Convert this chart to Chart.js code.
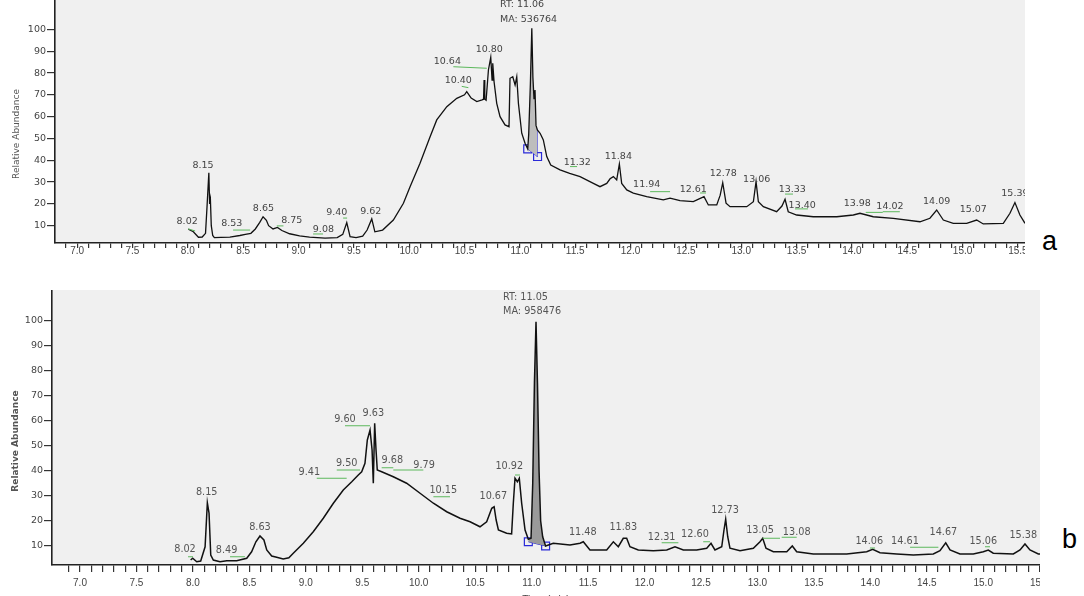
<!DOCTYPE html>
<html><head><meta charset="utf-8">
<script src="https://cdn.jsdelivr.net/npm/chart.js@4.4.1/dist/chart.umd.min.js"></script>
<style>
html,body{margin:0;padding:0;background:#fff;width:1084px;height:596px;overflow:hidden;position:relative}
#wa{position:absolute;left:0;top:0;width:1025px;height:262px}
#wb{position:absolute;left:0;top:290px;width:1040px;height:320px}
.lab{position:absolute;font-family:'Liberation Sans',Arial,sans-serif;font-size:27px;line-height:30px;color:#000}
</style></head>
<body>
<div id="wa"><canvas id="ca"></canvas></div>
<div id="wb"><canvas id="cb"></canvas></div>
<div class="lab" style="left:1042px;top:226px">a</div>
<div class="lab" style="left:1062px;top:524px">b</div>
<script>
// ---------------- DATA: panel a ----------------
const A_X = [8.005,8.05,8.096,8.13,8.16,8.175,8.19,8.197,8.204,8.212,8.225,8.24,8.30,8.38,8.47,8.52,8.57,8.61,8.65,8.68,8.71,8.73,8.77,8.81,8.85,8.92,9.01,9.10,9.24,9.35,9.40,9.436,9.466,9.52,9.58,9.62,9.662,9.69,9.76,9.857,9.948,10.008,10.098,10.189,10.249,10.34,10.43,10.50,10.52,10.56,10.611,10.659,10.672,10.677,10.683,10.695,10.716,10.737,10.749,10.755,10.767,10.791,10.821,10.866,10.902,10.911,10.936,10.957,10.972,10.987,11.017,11.047,11.071,11.08,11.095,11.108,11.118,11.128,11.137,11.146,11.158,11.183,11.212,11.243,11.279,11.363,11.45,11.544,11.664,11.724,11.785,11.815,11.845,11.875,11.899,11.92,11.966,12.025,12.146,12.296,12.357,12.447,12.567,12.664,12.703,12.779,12.81,12.833,12.863,12.899,13.05,13.11,13.134,13.155,13.2,13.32,13.368,13.396,13.425,13.501,13.651,13.863,14.013,14.073,14.193,14.374,14.615,14.705,14.766,14.826,14.916,15.037,15.127,15.187,15.368,15.428,15.473,15.518,15.564];
const A_Y = [8.4,7.2,4.7,4.8,6.5,20,34.3,20,22.1,10,5.5,4.5,4.6,4.8,5.5,6.0,6.5,8.5,11.5,14.1,12.5,10,8.5,9.2,7.8,6.3,5.3,4.8,4.3,4.5,6,11.4,5,4.5,5.2,8,13.1,7.2,8.0,12.6,20.3,27.9,38.6,50.8,58.5,64.6,68.4,70,71.5,68.5,66.9,67.7,68,76.8,68,67.5,81.4,87.2,76.8,84.5,76,66.1,60,56.2,55.4,77.6,78.3,74.5,78.3,66.1,52.4,47.8,45.2,52,75,100.5,78,68,72.2,56,53.9,52.4,49.3,41.7,37.8,35.6,34,32.5,29.4,27.9,29.4,31.5,32.5,31,38.3,29.4,26.4,24.9,23.3,21.8,22.6,21.5,21,23.3,19.5,19.5,24,29.7,20.3,18.7,18.7,21,30.2,21,18.7,16.4,19,22.1,16.4,14.9,14.1,14.1,14.9,15.7,14.1,13.4,11.8,13.4,17.2,12.6,11.1,11.1,12.6,10.8,11.1,15.7,20.6,14.9,11.1];
const A_SQ_X = [11.071, 11.16];
const A_SQ_Y = [45.2, 41.7];
const A_VLINE = [11.155, 41.7, 11.155, 54.5];
const A_LABELS = ["8.02","8.15","8.53","8.65","8.75","9.08","9.40","9.62","10.40","10.64","10.80","11.32","11.84","11.94","12.61","12.78","13.06","13.33","13.40","13.98","14.02","14.09","15.07","15.39"];
const A_LX = [7.994,8.138,8.397,8.683,8.939,9.225,9.346,9.653,10.444,10.345,10.724,11.519,11.89,12.146,12.567,12.838,13.14,13.461,13.551,14.049,14.344,14.766,15.097,15.473];
const A_LY = [11.7,37.8,11.1,18.0,12.2,8.3,16.0,16.7,76.4,85.2,90.6,38.9,41.7,28.7,26.4,34.0,31.3,26.7,19.2,20.0,18.7,21.0,17.2,24.9];
const A_GREEN = [[8.003,8.5,8.066,7.6],[8.409,8.0,8.563,8.0],[8.804,9.9,8.864,9.9],[9.132,6.2,9.222,6.2],[9.403,13.5,9.439,13.5],[10.475,73.9,10.535,73.3],[10.399,82.9,10.701,82.2],[11.453,37.1,11.517,37.1],[12.177,25.6,12.357,25.6],[12.628,25.0,12.682,25.0],[13.396,24.5,13.468,24.5],[13.486,17.7,13.603,17.7],[14.125,16.1,14.279,16.1],[14.279,16.4,14.433,16.4]];
const A_RT = ["RT: 11.06","MA: 536764"];
const A_RT_X = 10.821, A_RT_Y = [111.4, 104.6];

// ---------------- DATA: panel b ----------------
const B_X = [7.98,7.998,8.034,8.069,8.108,8.128,8.143,8.158,8.181,8.24,8.30,8.388,8.477,8.52,8.558,8.594,8.629,8.654,8.698,8.742,8.80,8.85,8.889,8.978,9.066,9.155,9.244,9.332,9.407,9.465,9.495,9.524,9.545,9.569,9.587,9.598,9.61,9.622,9.633,9.672,9.775,9.893,10.012,10.13,10.248,10.366,10.455,10.543,10.602,10.647,10.668,10.686,10.706,10.779,10.823,10.838,10.853,10.874,10.891,10.912,10.942,10.971,10.995,11.01,11.025,11.039,11.052,11.066,11.08,11.098,11.124,11.192,11.34,11.429,11.458,11.517,11.665,11.724,11.768,11.812,11.842,11.871,11.945,12.078,12.197,12.27,12.344,12.462,12.551,12.589,12.624,12.684,12.704,12.719,12.737,12.757,12.846,12.964,13.023,13.047,13.076,13.141,13.26,13.309,13.348,13.495,13.791,13.968,14.021,14.086,14.234,14.381,14.558,14.617,14.668,14.706,14.794,14.912,15.001,15.045,15.089,15.267,15.326,15.37,15.414,15.488,15.503];
const B_Y = [4.3,5.0,3.6,3.9,9.6,27.2,23,6.3,4.3,3.6,4.0,4.0,5.0,7.6,11.6,13.9,12.3,8.3,5.9,5.4,4.7,5.2,7.0,11.0,15.6,21.0,27,32.3,35.6,38.3,39.6,43,52.3,56.3,48.3,35,59,48.3,40.3,39.6,37.6,35,31,27,23.6,21,19.6,17.6,19.6,25,25.6,20.3,16.3,15,14.7,27,37,35.6,37,27,16.3,12.6,13,35,75,99.6,75,40,20,13.6,9.9,11,10.3,11.0,11.6,8.3,8.3,11.6,9.6,13.0,13.0,9.6,8.3,8.0,8.3,9.6,8.3,8.3,9.0,11.0,8.3,9.6,16.3,20.6,13.6,9.0,8.0,9.0,11.6,13.0,9.0,7.6,7.6,9.9,7.6,6.7,6.7,7.6,8.6,7.2,6.7,6.3,6.7,8.0,11.2,8.3,6.7,6.7,7.6,8.3,7.0,6.7,8.3,10.7,8.3,6.7,6.7];
const B_SQ_X = [10.971, 11.124];
const B_SQ_Y = [11.6, 9.9];
const B_LABELS = ["8.02","8.15","8.49","8.63","9.41","9.50","9.60","9.63","9.68","9.79","10.15","10.67","10.92","11.48","11.83","12.31","12.60","12.73","13.05","13.08","14.06","14.61","14.67","15.06","15.38"];
const B_LX = [7.930,8.122,8.299,8.594,9.031,9.362,9.347,9.598,9.766,10.047,10.218,10.661,10.802,11.453,11.812,12.152,12.447,12.713,13.023,13.348,13.991,14.307,14.647,15.001,15.355];
const B_LY = [8.7,31.2,8.0,17.4,39.2,43.0,60.6,63.0,44.0,42.3,32.3,29.6,41.6,15.2,17.2,13.4,14.7,24.3,16.0,15.2,11.6,11.9,15.2,11.6,14.3];
const B_GREEN = [[7.957,5.6,8.001,5.6],[8.329,5.6,8.461,5.6],[9.097,37.0,9.362,37.0],[9.274,40.3,9.48,40.3],[9.347,58.0,9.569,58.0],[9.672,41.2,9.775,41.2],[9.775,40.3,10.041,40.3],[10.13,29.6,10.277,29.6],[10.853,38.3,10.897,38.3],[12.152,11.2,12.3,11.2],[12.52,11.6,12.58,11.6],[13.047,13.0,13.2,13.0],[13.215,13.4,13.348,13.4],[13.997,9.1,14.042,9.1],[14.352,9.4,14.603,9.4],[15.016,9.6,15.06,9.6]];
const B_RT = ["RT: 11.05","MA: 958476"];
const B_RT_X = 10.747, B_RT_Y = [109.5, 103.9];

const Y_TICKS = [10,20,30,40,50,60,70,80,90,100];
const X_MAJOR = ["7.0","7.5","8.0","8.5","9.0","9.5","10.0","10.5","11.0","11.5","12.0","12.5","13.0","13.5","14.0","14.5","15.0","15.5"];

// ---------------- helpers ----------------
const pts = (xs, ys) => xs.map((x, i) => ({x, y: ys[i]}));
function areaPts(xs, ys, sqx) {
  return xs.map((x,i)=>({x,y:ys[i]})).filter(p => p.x >= sqx[0] && p.x <= sqx[1]);
}
const xMinor = [];
for (let k = 69; k <= 155; k++) xMinor.push(k / 10);

const bgPlugin = {
  id: 'bgp',
  beforeDraw(chart, a, o) {
    const {ctx, chartArea: c} = chart;
    ctx.save(); ctx.fillStyle = o.color; ctx.fillRect(c.left, c.top, c.right - c.left, c.bottom - c.top); ctx.restore();
  }
};
const annPlugin = {
  id: 'ann',
  afterDatasetsDraw(chart, a, o) {
    const {ctx} = chart; const x = chart.scales.x, y = chart.scales.y;
    ctx.save();
    ctx.strokeStyle = '#5cb85c'; ctx.lineWidth = 1;
    o.green.forEach(g => { ctx.beginPath(); ctx.moveTo(x.getPixelForValue(g[0]), y.getPixelForValue(g[1])); ctx.lineTo(x.getPixelForValue(g[2]), y.getPixelForValue(g[3])); ctx.stroke(); });
    ctx.fillStyle = o.color; ctx.font = o.font; ctx.textAlign = 'center'; ctx.textBaseline = 'middle';
    o.text.forEach((t, i) => ctx.fillText(t, x.getPixelForValue(o.lx[i]), y.getPixelForValue(o.ly[i])));
    ctx.textAlign = 'left';
    o.rt.forEach((t, i) => ctx.fillText(t, x.getPixelForValue(o.rtx), y.getPixelForValue(o.rty[i])));
    ctx.save(); ctx.translate(o.tx, o.ty); ctx.rotate(-Math.PI / 2); ctx.textAlign = 'center'; ctx.font = o.tfont; ctx.fillStyle = '#555';
    ctx.fillText('Relative Abundance', 0, 0); ctx.restore();
    ctx.restore();
  }
};

function makeChart(id, cfg) {
  const datasets = [
    {data: pts(cfg.xs, cfg.ys), borderColor: '#111', borderWidth: cfg.lw, pointRadius: 0, tension: 0, fill: false},
    {data: areaPts(cfg.xs, cfg.ys, cfg.sqx), borderWidth: 0, borderColor: 'rgba(0,0,0,0)', backgroundColor: cfg.fillColor, pointRadius: 0, tension: 0, fill: '+1'},
    {data: pts(cfg.sqx, cfg.sqy), borderColor: '#2a2ad8', borderWidth: 1, pointRadius: 0, tension: 0, fill: false},
    {data: pts(cfg.sqx, cfg.sqy), showLine: false, pointStyle: 'rect', pointRadius: 5.6, pointBorderWidth: 1.2, pointBorderColor: '#2a2ad8', pointBackgroundColor: 'rgba(0,0,0,0)'}
  ];
  if (cfg.vline) datasets.push({data: [{x: cfg.vline[0], y: cfg.vline[1]}, {x: cfg.vline[2], y: cfg.vline[3]}], borderColor: '#2a2ad8', borderWidth: 1.2, pointRadius: 0, fill: false});
  return new Chart(document.getElementById(id), {
    type: 'line',
    data: {datasets},
    options: {
      responsive: true, maintainAspectRatio: false, animation: false,
      layout: {padding: 0, autoPadding: false},
      plugins: {legend: {display: false}, tooltip: {enabled: false},
        bgp: {color: '#f0f0f0'},
        ann: {green: cfg.green, text: cfg.labels, lx: cfg.lx, ly: cfg.ly, rt: cfg.rt, rtx: cfg.rtx, rty: cfg.rty,
          color: cfg.lcolor, font: cfg.lfont, tx: cfg.tx, ty: cfg.ty, tfont: cfg.tfont}},
      scales: {
        x: {type: 'linear', min: cfg.xmin, max: cfg.xmax,
          afterFit: s => { s.height = cfg.xh; s.paddingLeft = 0; s.paddingRight = 0; },
          afterBuildTicks: s => { s.ticks = xMinor.map(v => ({value: v})); },
          grid: {display: true, drawOnChartArea: false, drawTicks: true, tickLength: cfg.xtl, color: '#333', lineWidth: 1.2},
          border: {display: true, color: '#222', width: 1.6},
          title: {display: !!cfg.xtitle, text: cfg.xtitle || '', color: '#444', font: {family: 'Liberation Sans', size: 10}, padding: {top: 0, bottom: 4}},
          ticks: {autoSkip: false, maxRotation: 0, minRotation: 0, padding: cfg.xpad, color: '#444',
            font: {family: 'Liberation Sans', size: 10},
            callback: v => { const s = v.toFixed(1); return X_MAJOR.includes(s) && Math.abs(v * 2 - Math.round(v * 2)) < 1e-6 ? s : ''; }}
        },
        y: {type: 'linear', min: cfg.ymin, max: cfg.ymax,
          afterFit: s => { s.width = cfg.yw; s.paddingTop = 0; s.paddingBottom = 0; },
          afterBuildTicks: s => { s.ticks = Y_TICKS.map(v => ({value: v})); },
          grid: {display: true, drawOnChartArea: false, drawTicks: true, tickLength: 8, color: '#333', lineWidth: 1.2},
          border: {display: true, color: '#222', width: 1.6},
          ticks: {padding: 1, color: '#444', font: {family: 'DejaVu Sans', size: 9.5}}
        }
      }
    },
    plugins: [bgPlugin, annPlugin]
  });
}

makeChart('ca', {xs: A_X, ys: A_Y, sqx: A_SQ_X, sqy: A_SQ_Y, vline: A_VLINE, fillColor: '#bdbdbd', lw: 1.3,
  labels: A_LABELS, lx: A_LX, ly: A_LY, green: A_GREEN, rt: A_RT, rtx: A_RT_X, rty: A_RT_Y,
  lcolor: '#444', lfont: '9.5px "DejaVu Sans"', tx: 17, ty: 134, tfont: '9px "DejaVu Sans"',
  xmin: 6.8, xmax: 15.564, ymin: 2.06, ymax: 113.5, xh: 19, yw: 55, xtl: 5, xpad: -3});

makeChart('cb', {xs: B_X, ys: B_Y, sqx: B_SQ_X, sqy: B_SQ_Y, fillColor: '#9a9a9a', lw: 1.5,
  labels: B_LABELS, lx: B_LX, ly: B_LY, green: B_GREEN, rt: B_RT, rtx: B_RT_X, rty: B_RT_Y,
  lcolor: '#555', lfont: '9.7px "DejaVu Sans"', tx: 16, ty: 151, tfont: 'bold 9px "DejaVu Sans"',
  xmin: 6.752, xmax: 15.503, ymin: 2.3, ymax: 112.3, xh: 45, yw: 52, xtl: 7, xpad: 5, xtitle: 'Time (min)'});
</script>
</body></html>
